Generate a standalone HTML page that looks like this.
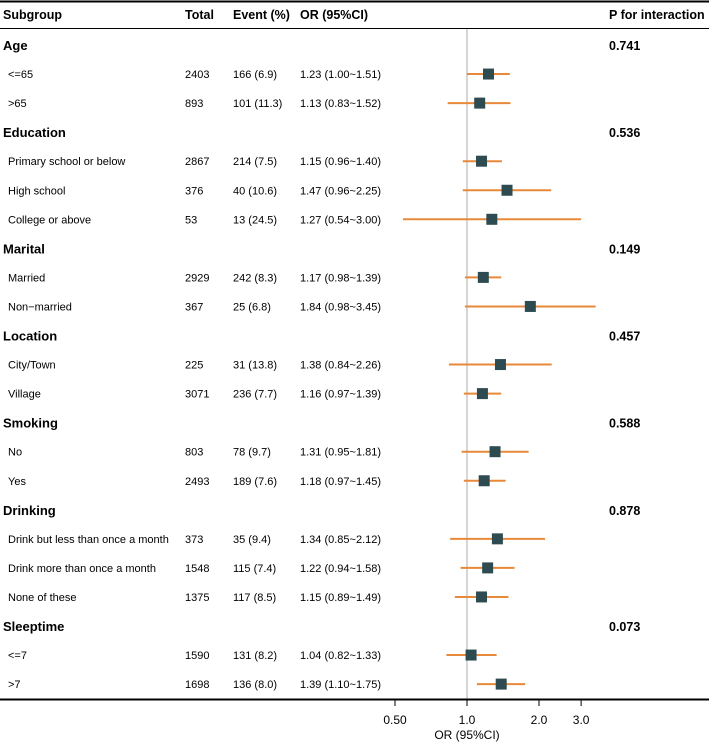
<!DOCTYPE html>
<html><head><meta charset="utf-8"><style>
body{margin:0;background:#fff;}
svg text{font-family:"Liberation Sans",Arial,sans-serif;fill:#000;}
</style></head><body>
<svg id="c" width="709" height="744" xmlns="http://www.w3.org/2000/svg">
<line x1="0" y1="1.5" x2="709" y2="1.5" stroke="#000" stroke-width="2"/>
<line x1="0" y1="28.5" x2="709" y2="28.5" stroke="#000" stroke-width="1"/>
<g font-weight="bold" font-size="12.5">
<text x="3" y="19">Subgroup</text>
<text x="185" y="19">Total</text>
<text x="233" y="19">Event (%)</text>
<text x="300" y="19">OR (95%CI)</text>
<text x="609" y="19">P for interaction</text>
</g>
<line x1="467" y1="29" x2="467" y2="699" stroke="#c8c8c8" stroke-width="1.5"/>
<g id="rows"></g>
<line x1="0" y1="699.5" x2="709" y2="699.5" stroke="#000" stroke-width="2"/>
<g id="ax"></g>
<text x="467" y="739" font-size="12" text-anchor="middle">OR (95%CI)</text>
</svg>
<script>
const labels=["Age","<=65",">65","Education","Primary school or below","High school","College or above","Marital","Married","Non\u2212married","Location","City/Town","Village","Smoking","No","Yes","Drinking","Drink but less than once a month","Drink more than once a month","None of these","Sleeptime","<=7",">7"];
const totals=["","2403","893","","2867","376","53","","2929","367","","225","3071","","803","2493","","373","1548","1375","","1590","1698"];
const events=["","166 (6.9)","101 (11.3)","","214 (7.5)","40 (10.6)","13 (24.5)","","242 (8.3)","25 (6.8)","","31 (13.8)","236 (7.7)","","78 (9.7)","189 (7.6)","","35 (9.4)","115 (7.4)","117 (8.5)","","131 (8.2)","136 (8.0)"];
const orVal=[null,1.23,1.13,null,1.15,1.47,1.27,null,1.17,1.84,null,1.38,1.16,null,1.31,1.18,null,1.34,1.22,1.15,null,1.04,1.39];
const lower=[null,1.00,0.83,null,0.96,0.96,0.54,null,0.98,0.98,null,0.84,0.97,null,0.95,0.97,null,0.85,0.94,0.89,null,0.82,1.10];
const upper=[null,1.51,1.52,null,1.40,2.25,3.00,null,1.39,3.45,null,2.26,1.39,null,1.81,1.45,null,2.12,1.58,1.49,null,1.33,1.75];
const pvals=["0.741","","","0.536","","","","0.149","","","0.457","","","0.588","","","0.878","","","","0.073","",""];
const ticks=[0.5,1,2,3];
const tickLabels=["0.50","1.0","2.0","3.0"];
const NS="http://www.w3.org/2000/svg";
const xs=v=>467+72*Math.log2(v);
const ys=i=>45+i*29.05;
const g=document.getElementById('rows');
function mk(t,a,p){const e=document.createElementNS(NS,t);for(const k in a)e.setAttribute(k,a[k]);p.appendChild(e);return e;}
labels.forEach((l,i)=>{
  const y=ys(i), grp=orVal[i]===null;
  const t=mk('text',{x:grp?3:8,y:grp?y+5:y+4,'font-size':grp?13:11,'font-weight':grp?'bold':'normal'},g);t.textContent=l;
  
  
  if(pvals[i]){const p=mk('text',{x:609,y:y+5,'font-size':12.5,'font-weight':'bold'},g);p.textContent=pvals[i];
    
    }
  if(!grp){
    const a=mk('text',{x:185,y:y+4,'font-size':11},g);a.textContent=totals[i];
    
    
    const b=mk('text',{x:233,y:y+4,'font-size':11},g);b.textContent=events[i];
    
    
    const c=mk('text',{x:300,y:y+4,'font-size':11},g);c.textContent=orVal[i].toFixed(2)+" ("+lower[i].toFixed(2)+"~"+upper[i].toFixed(2)+")";
    
    
    const ln=mk('line',{x1:xs(lower[i]),x2:xs(upper[i]),y1:y,y2:y,stroke:'#e8893a','stroke-width':2},g);
    
    
    const sq=mk('rect',{x:xs(orVal[i])-5.5,y:y-5.5,width:11,height:11,fill:'#2f4b52'},g);
    
    
  }
});
const ax=document.getElementById('ax');
ticks.forEach((v,i)=>{
  const tk=mk('line',{x1:xs(v),x2:xs(v),y1:700,y2:706,stroke:'#000','stroke-width':1},ax);
  
  
  const tl=mk('text',{x:xs(v),y:724,'font-size':12,'text-anchor':'middle'},ax);tl.textContent=tickLabels[i];
  
  
});
</script>
</body></html>
